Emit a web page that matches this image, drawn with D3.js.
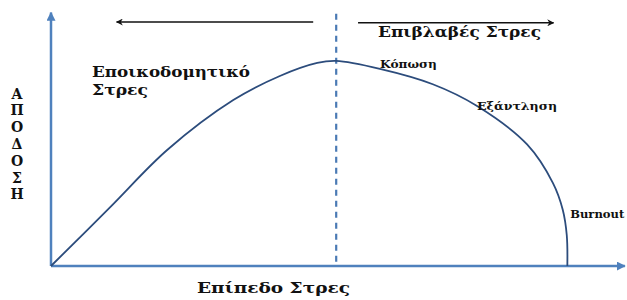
<!DOCTYPE html>
<html>
<head>
<meta charset="utf-8">
<script src="https://cdn.jsdelivr.net/npm/d3@7"></script>
<style>
  body { margin: 0; background: #fff; }
</style>
</head>
<body>
<div id="chart"></div>
<script>
// stress level (x) vs performance (y), both 0..100
const stressLevel = [0, 10.3, 20.2, 31.7, 39.8, 46.3, 49.6, 57.2, 66.4, 74.1, 82.8, 87.3, 89.0, 89.7, 89.8];
const performance = [0, 23, 45.3, 64.8, 74.2, 79.3, 80.1, 77.0, 71.0, 62.5, 47.5, 32.4, 22, 12, 0];

const peakX = 49.6;
const yLetters = ["Α", "Π", "Ο", "Δ", "Ο", "Σ", "Η"];
const phaseLabels = [
  { text: "Κόπωση", x: 57.2, y: 77.3, size: 11, len: 57 },
  { text: "Εξάντληση", x: 74.1, y: 60.9, size: 11, len: 80 },
  { text: "Burnout", x: 90.3, y: 18.8, size: 11.5, len: 54 }
];
const arrows = [
  { from: 45.6, to: 11.4, y: 95.3 },
  { from: 53.4, to: 87.4, y: 95.0 }
];

const width = 627, height = 300;
const x = d3.scaleLinear().domain([0, 100]).range([51, 626]);
const y = d3.scaleLinear().domain([0, 100]).range([266, 10]);

const svg = d3.select("#chart").append("svg")
  .attr("width", width)
  .attr("height", height)
  .attr("font-family", "'DejaVu Serif', 'Liberation Serif', serif")
  .attr("font-weight", "bold");

const defs = svg.append("defs");
defs.append("marker").attr("id", "blk")
  .attr("viewBox", "0 0 10 10").attr("refX", 9).attr("refY", 5)
  .attr("markerWidth", 7).attr("markerHeight", 7).attr("orient", "auto-start-reverse")
  .attr("markerUnits", "userSpaceOnUse")
  .append("path").attr("d", "M0,0 L10,5 L0,10 L3,5 Z").attr("fill", "#111");
defs.append("marker").attr("id", "blu")
  .attr("viewBox", "0 0 10 10").attr("refX", 9).attr("refY", 5)
  .attr("markerWidth", 9).attr("markerHeight", 9).attr("orient", "auto")
  .attr("markerUnits", "userSpaceOnUse")
  .append("path").attr("d", "M0,0 L10,5 L0,10 Z").attr("fill", "#4f81bd");

// axes
svg.append("line")
  .attr("x1", x(0)).attr("y1", y(0)).attr("x2", x(0)).attr("y2", y(99))
  .attr("stroke", "#4f81bd").attr("stroke-width", 2.5).attr("marker-end", "url(#blu)");
svg.append("line")
  .attr("x1", x(0)).attr("y1", y(0)).attr("x2", x(99.8)).attr("y2", y(0))
  .attr("stroke", "#4f81bd").attr("stroke-width", 2.5).attr("marker-end", "url(#blu)");

// dashed divider at peak
svg.append("line")
  .attr("x1", x(peakX)).attr("x2", x(peakX))
  .attr("y1", y(98.5)).attr("y2", y(0))
  .attr("stroke", "#4a7ab4").attr("stroke-width", 2.2)
  .attr("stroke-dasharray", "6,5");

// direction arrows
svg.selectAll("line.arrow").data(arrows).enter().append("line")
  .attr("class", "arrow")
  .attr("x1", d => x(d.from)).attr("x2", d => x(d.to))
  .attr("y1", d => y(d.y)).attr("y2", d => y(d.y))
  .attr("stroke", "#111").attr("stroke-width", 1.6)
  .attr("marker-end", "url(#blk)");

// curve
const pts = stressLevel.map((s, i) => [s, performance[i]]);
const line = d3.line()
  .x(d => x(d[0])).y(d => y(d[1]))
  .curve(d3.curveCatmullRom.alpha(0.5));
svg.append("path")
  .datum(pts)
  .attr("d", line)
  .attr("fill", "none")
  .attr("stroke", "#2c4c7c")
  .attr("stroke-width", 1.8);

// texts (widths pinned to the reference)
function label(tx, ty, size, len, str, anchor) {
  return svg.append("text").attr("x", tx).attr("y", ty)
    .attr("font-size", size).attr("fill", "#111")
    .attr("text-anchor", anchor || "start")
    .attr("textLength", len).attr("lengthAdjust", "spacingAndGlyphs")
    .text(str);
}
label(378, 37, 15.5, 163, "Επιβλαβές Στρες");
label(92, 77, 14, 158, "Εποικοδομητικό");
label(92, 95, 14, 56, "Στρες");
label(197, 293, 14, 153, "Επίπεδο Στρες");

svg.selectAll("text.phase").data(phaseLabels).enter().append("text")
  .attr("class", "phase")
  .attr("x", d => x(d.x)).attr("y", d => y(d.y))
  .attr("font-size", d => d.size).attr("fill", "#111")
  .attr("textLength", d => d.len).attr("lengthAdjust", "spacingAndGlyphs")
  .text(d => d.text);

svg.selectAll("text.ylet").data(yLetters).enter().append("text")
  .attr("class", "ylet")
  .attr("x", 17).attr("y", (d, i) => 98.5 + i * 16.8)
  .attr("text-anchor", "middle").attr("font-size", 14).attr("fill", "#111")
  .text(d => d);
</script>
</body>
</html>
